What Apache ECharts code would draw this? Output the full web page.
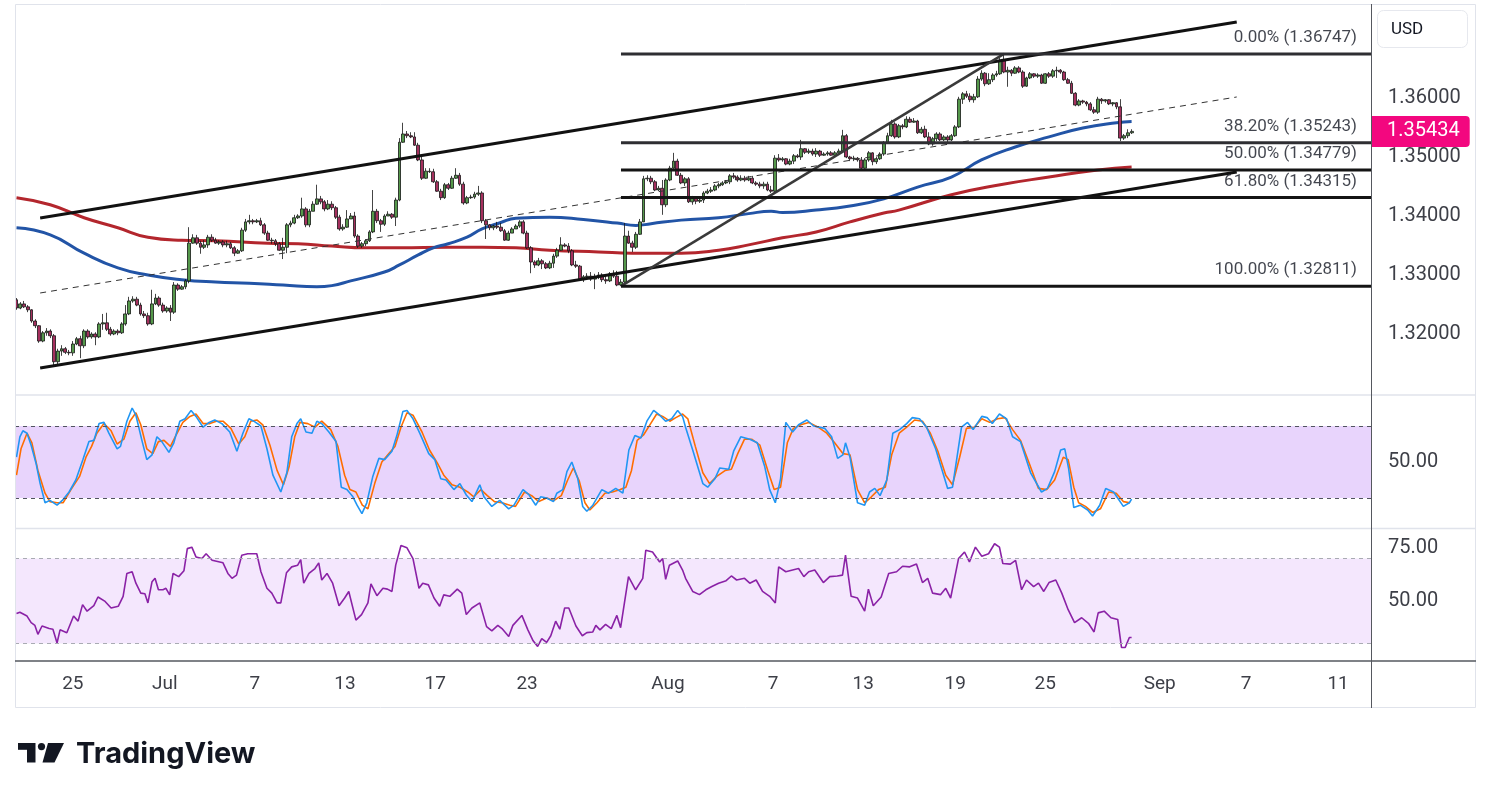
<!DOCTYPE html>
<html><head><meta charset="utf-8">
<script src="https://cdn.jsdelivr.net/npm/echarts@6/dist/echarts.min.js"></script>
<style>html,body{margin:0;padding:0;background:#fff}#c{width:1491px;height:799px}</style>
</head><body><div id="c"></div>
<script>
// ---------- DATA (4H candles: [open, close, low, high]) ----------
const candles = [
[1.3258,1.3244,1.3241,1.3261],[1.3244,1.3251,1.3242,1.3254],[1.3251,1.3246,1.3244,1.3256],[1.3246,1.3241,1.3237,1.3249],[1.3241,1.3222,1.3219,1.3242],
[1.3222,1.3214,1.3210,1.3225],[1.3214,1.3188,1.3185,1.3215],[1.3188,1.3202,1.3186,1.3205],[1.3202,1.3205,1.3197,1.3210],[1.3205,1.3197,1.3193,1.3208],
[1.3197,1.3153,1.3146,1.3200],[1.3153,1.3171,1.3149,1.3175],[1.3171,1.3175,1.3163,1.3181],[1.3175,1.3169,1.3166,1.3178],[1.3169,1.3168,1.3164,1.3173],
[1.3168,1.3183,1.3163,1.3188],[1.3183,1.3192,1.3181,1.3195],[1.3192,1.3180,1.3159,1.3197],[1.3180,1.3205,1.3176,1.3208],[1.3205,1.3195,1.3192,1.3208],
[1.3195,1.3200,1.3192,1.3203],[1.3200,1.3195,1.3181,1.3203],[1.3195,1.3217,1.3193,1.3220],[1.3217,1.3219,1.3207,1.3234],[1.3219,1.3208,1.3205,1.3236],
[1.3208,1.3200,1.3197,1.3212],[1.3200,1.3205,1.3198,1.3208],[1.3205,1.3202,1.3198,1.3208],[1.3202,1.3217,1.3200,1.3220],[1.3217,1.3234,1.3214,1.3249],
[1.3234,1.3256,1.3232,1.3263],[1.3256,1.3259,1.3253,1.3264],[1.3259,1.3249,1.3247,1.3263],[1.3249,1.3234,1.3231,1.3253],[1.3234,1.3231,1.3227,1.3239],
[1.3231,1.3217,1.3214,1.3236],[1.3217,1.3251,1.3215,1.3275],[1.3251,1.3261,1.3249,1.3268],[1.3261,1.3249,1.3246,1.3264],[1.3249,1.3239,1.3236,1.3253],
[1.3239,1.3244,1.3236,1.3247],[1.3244,1.3237,1.3222,1.3249],[1.3237,1.3283,1.3234,1.3288],[1.3283,1.3276,1.3273,1.3286],[1.3276,1.3280,1.3275,1.3283],
[1.3280,1.3290,1.3276,1.3293],[1.3290,1.3354,1.3286,1.3381],[1.3354,1.3363,1.3353,1.3369],[1.3363,1.3354,1.3351,1.3368],[1.3354,1.3347,1.3336,1.3358],
[1.3347,1.3351,1.3344,1.3359],[1.3351,1.3364,1.3346,1.3368],[1.3364,1.3359,1.3356,1.3369],[1.3359,1.3354,1.3353,1.3363],[1.3354,1.3356,1.3351,1.3359],
[1.3356,1.3351,1.3347,1.3359],[1.3351,1.3353,1.3347,1.3358],[1.3353,1.3346,1.3344,1.3356],[1.3346,1.3337,1.3332,1.3349],[1.3337,1.3341,1.3336,1.3344],
[1.3341,1.3376,1.3339,1.3380],[1.3376,1.3390,1.3373,1.3395],[1.3390,1.3392,1.3386,1.3402],[1.3392,1.3390,1.3386,1.3395],[1.3390,1.3392,1.3388,1.3395],
[1.3392,1.3385,1.3383,1.3397],[1.3385,1.3371,1.3368,1.3388],[1.3371,1.3359,1.3358,1.3375],[1.3359,1.3358,1.3353,1.3363],[1.3358,1.3353,1.3349,1.3361],
[1.3353,1.3342,1.3341,1.3356],[1.3342,1.3347,1.3327,1.3363],[1.3347,1.3385,1.3337,1.3388],[1.3385,1.3388,1.3381,1.3392],[1.3388,1.3397,1.3386,1.3402],
[1.3397,1.3400,1.3395,1.3403],[1.3400,1.3412,1.3397,1.3431],[1.3412,1.3385,1.3381,1.3415],[1.3385,1.3408,1.3381,1.3412],[1.3408,1.3420,1.3408,1.3425],
[1.3420,1.3429,1.3419,1.3453],[1.3429,1.3424,1.3420,1.3434],[1.3424,1.3412,1.3408,1.3427],[1.3412,1.3420,1.3410,1.3427],[1.3420,1.3414,1.3410,1.3425],
[1.3414,1.3398,1.3395,1.3417],[1.3398,1.3378,1.3375,1.3402],[1.3378,1.3381,1.3375,1.3386],[1.3381,1.3395,1.3380,1.3410],[1.3395,1.3400,1.3395,1.3405],
[1.3400,1.3366,1.3363,1.3407],[1.3366,1.3349,1.3346,1.3369],[1.3349,1.3353,1.3346,1.3356],[1.3353,1.3358,1.3349,1.3361],[1.3358,1.3373,1.3356,1.3376],
[1.3373,1.3408,1.3371,1.3444],[1.3408,1.3392,1.3388,1.3412],[1.3392,1.3386,1.3373,1.3395],[1.3386,1.3400,1.3383,1.3403],[1.3400,1.3403,1.3400,1.3408],
[1.3403,1.3398,1.3395,1.3405],[1.3398,1.3427,1.3383,1.3431],[1.3427,1.3525,1.3425,1.3532],[1.3525,1.3539,1.3524,1.3558],[1.3539,1.3536,1.3532,1.3544],
[1.3536,1.3534,1.3532,1.3542],[1.3534,1.3520,1.3519,1.3542],[1.3520,1.3495,1.3493,1.3524],[1.3495,1.3464,1.3461,1.3500],[1.3464,1.3476,1.3463,1.3481],
[1.3476,1.3475,1.3473,1.3481],[1.3475,1.3458,1.3456,1.3480],[1.3458,1.3442,1.3441,1.3461],[1.3442,1.3431,1.3427,1.3446],[1.3431,1.3453,1.3429,1.3456],
[1.3453,1.3447,1.3444,1.3456],[1.3447,1.3464,1.3446,1.3468],[1.3464,1.3469,1.3463,1.3481],[1.3469,1.3454,1.3451,1.3473],[1.3454,1.3422,1.3419,1.3458],
[1.3422,1.3431,1.3420,1.3434],[1.3431,1.3432,1.3429,1.3436],[1.3432,1.3437,1.3429,1.3441],[1.3437,1.3439,1.3434,1.3451],[1.3439,1.3392,1.3388,1.3442],
[1.3392,1.3385,1.3361,1.3395],[1.3385,1.3380,1.3376,1.3386],[1.3380,1.3383,1.3376,1.3385],[1.3383,1.3381,1.3378,1.3390],[1.3381,1.3375,1.3373,1.3388],
[1.3375,1.3359,1.3358,1.3378],[1.3359,1.3371,1.3358,1.3375],[1.3371,1.3378,1.3371,1.3381],[1.3378,1.3383,1.3378,1.3386],[1.3383,1.3390,1.3380,1.3393],
[1.3390,1.3371,1.3369,1.3393],[1.3371,1.3346,1.3344,1.3375],[1.3346,1.3322,1.3303,1.3349],[1.3322,1.3317,1.3312,1.3325],[1.3317,1.3324,1.3315,1.3329],
[1.3324,1.3319,1.3310,1.3327],[1.3319,1.3312,1.3310,1.3322],[1.3312,1.3320,1.3310,1.3324],[1.3320,1.3332,1.3312,1.3336],[1.3332,1.3342,1.3329,1.3346],
[1.3342,1.3351,1.3341,1.3364],[1.3351,1.3349,1.3347,1.3354],[1.3349,1.3341,1.3337,1.3354],[1.3341,1.3317,1.3315,1.3344],[1.3317,1.3315,1.3312,1.3324],
[1.3315,1.3292,1.3290,1.3317],[1.3292,1.3297,1.3288,1.3300],[1.3297,1.3298,1.3293,1.3303],[1.3298,1.3293,1.3290,1.3305],[1.3293,1.3297,1.3276,1.3302],
[1.3297,1.3300,1.3293,1.3305],[1.3300,1.3292,1.3288,1.3303],[1.3292,1.3290,1.3285,1.3298],[1.3290,1.3302,1.3288,1.3305],[1.3302,1.3298,1.3295,1.3308],
[1.3298,1.3283,1.3281,1.3307],[1.3283,1.3288,1.3281,1.3293],[1.3288,1.3366,1.3285,1.3388],[1.3366,1.3354,1.3353,1.3375],[1.3354,1.3347,1.3339,1.3358],
[1.3347,1.3369,1.3344,1.3373],[1.3369,1.3390,1.3368,1.3395],[1.3390,1.3463,1.3390,1.3468],[1.3463,1.3464,1.3459,1.3469],[1.3464,1.3458,1.3454,1.3468],
[1.3458,1.3444,1.3442,1.3461],[1.3444,1.3447,1.3442,1.3451],[1.3447,1.3419,1.3402,1.3461],[1.3419,1.3461,1.3415,1.3464],[1.3461,1.3481,1.3459,1.3485],
[1.3481,1.3493,1.3480,1.3507],[1.3493,1.3469,1.3468,1.3497],[1.3469,1.3456,1.3454,1.3473],[1.3456,1.3463,1.3451,1.3466],[1.3463,1.3424,1.3422,1.3466],
[1.3424,1.3431,1.3419,1.3434],[1.3431,1.3425,1.3420,1.3432],[1.3425,1.3427,1.3422,1.3432],[1.3427,1.3439,1.3422,1.3442],[1.3439,1.3442,1.3437,1.3446],
[1.3442,1.3444,1.3439,1.3449],[1.3444,1.3451,1.3442,1.3454],[1.3451,1.3453,1.3447,1.3456],[1.3453,1.3456,1.3451,1.3459],[1.3456,1.3458,1.3454,1.3461],
[1.3458,1.3468,1.3454,1.3471],[1.3468,1.3466,1.3463,1.3473],[1.3466,1.3461,1.3458,1.3469],[1.3461,1.3464,1.3459,1.3469],[1.3464,1.3461,1.3458,1.3468],
[1.3461,1.3464,1.3459,1.3468],[1.3464,1.3456,1.3454,1.3468],[1.3456,1.3454,1.3451,1.3459],[1.3454,1.3451,1.3447,1.3458],[1.3451,1.3454,1.3446,1.3458],
[1.3454,1.3444,1.3442,1.3458],[1.3444,1.3442,1.3439,1.3451],[1.3442,1.3498,1.3439,1.3503],[1.3498,1.3495,1.3492,1.3505],[1.3495,1.3497,1.3492,1.3500],
[1.3497,1.3488,1.3486,1.3498],[1.3488,1.3493,1.3486,1.3497],[1.3493,1.3502,1.3488,1.3505],[1.3502,1.3500,1.3498,1.3505],[1.3500,1.3514,1.3495,1.3529],
[1.3514,1.3508,1.3505,1.3515],[1.3508,1.3510,1.3505,1.3514],[1.3510,1.3505,1.3502,1.3514],[1.3505,1.3510,1.3500,1.3515],[1.3510,1.3503,1.3500,1.3512],
[1.3503,1.3505,1.3502,1.3508],[1.3505,1.3507,1.3502,1.3510],[1.3507,1.3503,1.3502,1.3510],[1.3503,1.3507,1.3502,1.3510],[1.3507,1.3510,1.3505,1.3514],
[1.3510,1.3536,1.3508,1.3546],[1.3536,1.3500,1.3498,1.3539],[1.3500,1.3497,1.3493,1.3502],[1.3497,1.3498,1.3493,1.3502],[1.3498,1.3495,1.3492,1.3500],
[1.3495,1.3481,1.3478,1.3500],[1.3481,1.3495,1.3480,1.3498],[1.3495,1.3507,1.3492,1.3510],[1.3507,1.3492,1.3486,1.3508],[1.3492,1.3497,1.3488,1.3500],
[1.3497,1.3505,1.3495,1.3508],[1.3505,1.3524,1.3502,1.3527],[1.3524,1.3536,1.3522,1.3541],[1.3536,1.3556,1.3534,1.3563],[1.3556,1.3534,1.3531,1.3559],
[1.3534,1.3553,1.3532,1.3556],[1.3553,1.3551,1.3547,1.3556],[1.3551,1.3564,1.3549,1.3569],[1.3564,1.3559,1.3558,1.3568],[1.3559,1.3561,1.3558,1.3566],
[1.3561,1.3541,1.3539,1.3563],[1.3541,1.3547,1.3539,1.3551],[1.3547,1.3534,1.3532,1.3553],[1.3534,1.3522,1.3520,1.3542],[1.3522,1.3531,1.3519,1.3534],
[1.3531,1.3539,1.3527,1.3542],[1.3539,1.3529,1.3527,1.3542],[1.3529,1.3534,1.3527,1.3537],[1.3534,1.3529,1.3525,1.3537],[1.3529,1.3536,1.3527,1.3539],
[1.3536,1.3551,1.3534,1.3554],[1.3551,1.3598,1.3549,1.3602],[1.3598,1.3607,1.3590,1.3610],[1.3607,1.3603,1.3600,1.3612],[1.3603,1.3597,1.3593,1.3608],
[1.3597,1.3602,1.3592,1.3607],[1.3602,1.3632,1.3600,1.3637],[1.3632,1.3642,1.3629,1.3647],[1.3642,1.3624,1.3620,1.3644],[1.3624,1.3631,1.3622,1.3642],
[1.3631,1.3639,1.3627,1.3642],[1.3639,1.3641,1.3636,1.3646],[1.3641,1.3663,1.3639,1.3668],[1.3663,1.3644,1.3642,1.36747],[1.3644,1.3647,1.3619,1.3653],
[1.3647,1.3642,1.3637,1.3649],[1.3642,1.3651,1.3641,1.3654],[1.3651,1.3644,1.3642,1.3654],[1.3644,1.3620,1.3617,1.3647],[1.3620,1.3634,1.3619,1.3636],
[1.3634,1.3641,1.3632,1.3644],[1.3641,1.3637,1.3634,1.3642],[1.3637,1.3639,1.3634,1.3642],[1.3639,1.3625,1.3624,1.3641],[1.3625,1.3641,1.3624,1.3642],
[1.3641,1.3637,1.3634,1.3644],[1.3637,1.3646,1.3634,1.3649],[1.3646,1.3647,1.3634,1.3653],[1.3647,1.3644,1.3641,1.3649],[1.3644,1.3631,1.3629,1.3646],
[1.3631,1.3625,1.3624,1.3634],[1.3625,1.3608,1.3607,1.3629],[1.3608,1.3588,1.3586,1.3610],[1.3588,1.3595,1.3586,1.3598],[1.3595,1.3593,1.3590,1.3597],
[1.3593,1.3590,1.3586,1.3595],[1.3590,1.3580,1.3578,1.3593],[1.3580,1.3576,1.3573,1.3585],[1.3576,1.3598,1.3573,1.3602],[1.3598,1.3595,1.3590,1.3600],
[1.3595,1.3597,1.3592,1.3598],[1.3597,1.3590,1.3588,1.3598],[1.3590,1.3592,1.3586,1.3593],[1.3592,1.3585,1.3581,1.3593],[1.3585,1.3532,1.3527,1.3598],
[1.3532,1.3536,1.3529,1.3539],[1.3536,1.3541,1.3532,1.3547],[1.3541,1.35434,1.3539,1.3547]
];
const lastPrice = 1.35434;

// moving averages [bar, price]
const maBlue = [[0,1.3380],[9,1.3368],[18,1.3337],[27,1.3312],[35,1.3300],[44,1.3292],[53,1.3288],[62,1.3286],[71,1.3283],[80,1.3280],[84,1.3282],[89,1.3290],[98,1.3305],[102,1.3317],[107,1.3334],[111,1.3346],[115,1.3353],[120,1.3364],[124,1.3378],[129,1.3389],[133,1.3396],[142,1.3398],[151,1.3394],[160,1.3388],[165,1.3384],[169,1.3387],[177,1.3393],[187,1.3397],[195,1.3404],[201,1.3408],[204,1.3406],[213,1.3410],[222,1.3417],[231,1.3429],[240,1.3449],[249,1.3466],[257,1.3495],[266,1.3517],[275,1.3534],[284,1.3549],[293,1.3558],[297,1.3560]];
const maRed = [[0,1.3431],[9,1.3419],[18,1.3397],[27,1.3380],[35,1.3364],[44,1.3359],[53,1.3358],[67,1.3354],[75,1.3353],[84,1.3349],[93,1.3346],[102,1.3346],[115,1.3347],[124,1.3347],[133,1.3346],[142,1.3342],[155,1.3339],[164,1.3337],[177,1.3337],[187,1.3342],[195,1.3351],[204,1.3363],[213,1.3373],[222,1.3390],[231,1.3405],[235,1.3410],[249,1.3436],[262,1.3453],[275,1.3466],[288,1.3478],[297,1.3483]];

// stochastic %K and %D [bar, value]
const stochK = [[0,54],[0.9,71],[1.7,76],[2.8,74],[3.9,64],[5.2,49],[6.3,32],[7.6,16],[8.9,18],[10.8,14],[12.2,18],[14,25],[15.8,35],[17.7,52],[19.3,67],[20.6,68],[22,82],[23.3,83],[24.6,74],[26.8,61],[27.7,63],[29.4,84],[30.8,95],[31.8,89],[33.4,68],[34.7,52],[36.1,56],[37.4,71],[38.7,67],[40.6,58],[41.9,66],[43.5,84],[44.9,86],[46.5,93],[47.8,88],[49.7,79],[51.3,83],[52.8,85],[54.7,82],[56.8,75],[58.7,59],[60.3,74],[61.9,86],[63.2,84],[65.1,80],[66.7,61],[68.3,39],[70.4,25],[72,41],[73.3,71],[74.7,82],[75.7,86],[77.1,75],[78.7,74],[80,84],[81.3,82],[83.2,75],[85.1,67],[86.5,29],[88,27],[89.6,21],[90.7,14],[92,7],[93.3,16],[94.9,38],[96.5,53],[98.1,52],[100,59],[101.3,72],[102.9,92],[104,93],[105.6,86],[107.4,74],[109.8,57],[111.4,52],[113,36],[114.4,35],[116.5,27],[118.1,32],[119.8,22.5],[121.3,17],[123.4,31],[124.5,21],[126.6,13],[128.7,18],[131.1,11],[132.5,14],[134.9,27],[136.4,23],[138.3,14],[139.6,21],[141.2,20],[143,17],[143.9,24],[145.5,27],[146.6,42],[147.9,50],[149.5,36],[150.8,13],[151.9,9],[153.5,14],[155.9,27],[157.7,24],[159.6,28],[161.5,24],[163.1,60],[164.7,72],[166.3,70],[167.9,84],[169.7,93],[171.3,89],[172.9,84],[174.5,86],[176.1,93],[177.4,88],[178.2,79],[180.1,60],[182.8,32],[184.1,29],[186,36],[187.3,45],[189.7,44],[191,59],[192.9,71],[195.3,69],[197.3,66],[199.3,46],[200.6,27],[202.1,16],[203.5,36],[204.9,83],[206.7,75],[208.3,81],[210.5,85],[212.3,80],[215.3,78],[217.1,71],[218.7,53],[220.1,56],[220.8,66],[222,54],[224,16],[225.9,14],[227.2,25],[228.6,28],[230,22],[231.8,35],[233.4,74],[235.2,77],[237.1,82],[238.6,87],[240.5,86],[242.4,79],[244.8,61],[248,28],[249.3,29],[251.7,79],[253.3,83],[254.8,77],[257.1,88],[258.5,87],[259.9,82],[261.8,90],[263.7,86],[265.3,71],[267.4,67],[270.1,41],[273,25],[274.6,28],[276.5,42],[278.1,60],[279.2,61],[280.2,45],[281.6,12],[283.3,14],[285.3,10],[286.6,5],[288.5,14],[290.1,28],[292.2,25],[294.8,13],[296.4,16],[297,19]];
const stochD = [[0,39],[1.2,61],[2.8,74],[4.1,66],[5.7,43],[7.6,24],[8.9,17],[10.8,16],[12.4,16],[14.5,27],[16.8,38],[18.5,54],[20,63],[21.4,74],[23.3,82],[25.2,76],[26.8,65],[28.6,69],[30.2,84],[31.8,91],[33.1,81],[34.7,61],[36.3,57],[37.8,67],[39.3,68],[41,63],[42.5,72.5],[44.3,83],[46.2,88],[47.8,90],[49.7,82],[51.5,82],[53.2,84],[55,84],[57.1,78],[59.2,65],[60.8,71],[62.4,84],[64,85],[65.6,81],[67.5,64],[69.4,43],[71.1,31],[72.6,46],[74.1,71],[75.5,83],[77.6,82],[79.5,79],[81.3,84],[83.7,77],[85.6,63],[87.4,39],[88.8,27],[90.4,25],[92.1,14],[93.6,11],[95.4,32],[97.3,50],[98.9,56],[100.8,63],[102.4,79],[104,91],[105.6,89],[108,75],[110,60],[112.1,49],[113.8,39],[116,31],[118.1,29],[120.2,25],[121.8,21],[123.7,27],[125.4,22],[127.3,17],[129.3,16],[131.4,14],[132.9,13],[135.3,25],[137.2,22],[139.1,17],[141.2,20],[143.2,18],[145.1,22],[146.8,35],[148.3,45],[149.9,34],[151.4,16],[152.7,10],[154.6,16],[156.7,24],[158.7,25],[160.8,27],[162.3,29],[163.8,43],[165.3,68],[167,72.5],[168.9,82],[170.5,90],[172.1,88],[174,84],[175.6,87],[177.4,90],[178.8,86],[180.8,63],[182.8,41],[184.6,32],[186.5,38],[188.8,43],[190.4,44],[192.1,57],[193.9,69],[195.8,69],[198,64],[200.1,43],[201.8,27],[203.5,29],[205.3,66],[206.9,78],[208.9,81],[211,83],[213.5,79],[215.8,74],[217.9,66],[220.1,57],[222,56],[224,27],[225.9,16],[227.7,21],[229.6,27],[231.4,29],[233.1,56],[235.1,74],[237.1,79],[239.2,85],[241.3,84],[243.4,74],[245.4,59],[247.5,39],[249.3,31],[251.2,54],[253,78],[255.1,79],[257.1,86],[259.2,83],[261.3,86],[263.3,87],[265.3,77],[267.4,68],[269.6,50],[272.2,28],[274.4,27],[276.5,35],[278.8,54],[280.1,52],[281.6,29],[282.9,16],[284.7,13],[286.6,8],[288.7,11],[290.9,25],[292.9,24],[294.8,17],[296.6,16]];

// RSI [bar, value]
const rsi = [[0,44.1],[0.9,44.7],[2.8,42.9],[3.9,39.8],[4.9,38.5],[5.7,34.3],[6.8,38.2],[8.7,37],[9.7,36.7],[10.8,30.2],[11.6,36.4],[13.4,35],[15.2,42.9],[16.4,40.5],[17.6,48.3],[18.8,45.2],[20.6,47.8],[21.7,51.9],[23.6,49.8],[25.2,46.7],[27.1,47.5],[28.4,52.2],[29.4,63],[30.8,63.8],[31.8,58.4],[33.1,53.7],[34.2,53.4],[35,49.1],[36.1,59.1],[36.9,60.7],[37.8,55.3],[39,55.3],[39.8,56],[40.8,52.9],[41.7,63],[43.2,61.5],[44.6,64.3],[45.5,74.7],[46.7,75.4],[47.8,70.8],[49.4,70],[50.5,72.3],[52.1,69.2],[55,68],[56.3,63],[57.4,60.7],[58.6,62.2],[60,71.6],[61.6,72.3],[64,72.3],[65.1,63.8],[66.7,56],[68,53.7],[69.4,49.1],[70.4,49.1],[71.9,63.3],[73.3,66.1],[74.9,66.9],[75.7,69.5],[76.5,58.4],[77.9,63],[79.5,65.3],[80.5,68],[81.3,59.9],[82.7,63],[84.2,58.4],[85.9,47.8],[87.4,51.4],[88.5,54.5],[90.4,41],[91.9,43.6],[93.6,49.1],[94.4,58.1],[96,52.5],[97.6,56],[98.8,55.6],[100,54.5],[101,66.9],[102.4,76.2],[104,75.1],[105.6,70],[107.2,56],[108.2,58.4],[109.7,57.6],[111.2,51.4],[112.7,47.5],[113.8,52.9],[115.4,52.2],[117.4,55.6],[118.6,53.7],[119.8,43.6],[121.3,46.7],[123.4,49.1],[125.2,37.9],[126.6,35.9],[128.2,38.5],[129.3,37],[131.1,33.3],[132.2,38.5],[134.6,43.2],[136.2,36.4],[137.6,31.2],[138.8,28.6],[139.9,32.3],[141.2,30.5],[142.3,33.6],[143.6,40.5],[144.7,36.7],[146,46.7],[147.1,46.7],[149,38.2],[150.7,33.6],[151.9,35.1],[153.5,35.4],[154.3,38.5],[155.4,36.4],[156.9,39],[158.4,37],[159.9,43.2],[160.9,37.4],[163,61.5],[164.9,55.3],[166.8,60.7],[167.6,73.9],[169.4,73.1],[171.3,68.4],[172.1,70],[172.9,60.2],[173.9,66.9],[176.1,68.9],[177.4,64.6],[178.2,60.7],[180.1,54.5],[181.9,53],[183.6,55.3],[185.2,56.8],[187,58.4],[189,59.6],[190.4,61.8],[191.8,59.9],[193.9,60.7],[195.3,58.4],[197,59.9],[198.7,54.5],[200.6,52.2],[202.1,49.1],[203,66.1],[204.9,63.8],[206.7,64.6],[208.3,65.3],[209.7,61.5],[211,63.8],[212.6,64.6],[214.9,58.7],[216.6,61.5],[218.6,61.8],[220,62.2],[220.8,71.6],[222.3,52.2],[224,51.4],[225.9,45.2],[226.9,55.6],[228.2,47.8],[230.3,51.9],[232.3,63],[234.4,63.8],[236,66.4],[237.9,66.1],[239.7,67.4],[241.3,58.7],[242.7,60.7],[244,53.7],[246.1,53],[247.5,56],[248.8,51.4],[250.9,70],[252.5,73.1],[253.8,68.4],[255.4,75.4],[257.1,71.1],[258.9,72.3],[260.5,77],[261.8,75.4],[262.7,67.7],[264.7,67.4],[266.1,69.2],[267.7,55.3],[269,59.9],[270.9,56.8],[272.2,58.4],[273.6,54.5],[275,58.7],[276.8,59.9],[278.4,53.7],[280.1,45.9],[281.8,39.8],[283.7,42.1],[285.5,39.5],[287,35.4],[288.1,44.4],[289.7,45.2],[291.5,42.1],[293.3,41.3],[294.3,28.1],[295.3,28.1],[296.4,32.8],[297,32.8]];

// drawings
const channelX = [6.3, 325];
const channelUpper = [1.33966, 1.37288];
const channelLower = [1.31424, 1.34746];
const channelMid = [1.32695, 1.36017];
const fibLevels = [0, 38.2, 50, 61.8, 100];
const fibPrices = [1.36747, 1.35243, 1.34779, 1.34315, 1.32811];
const fibLowBar = 161;
const fibHighBar = 263;

// axes ticks
const priceTicks = [1.32, 1.33, 1.34, 1.35, 1.36];
const stochTicks = [50];
const rsiTicks = [50, 75];
const stochBand = [20, 80];
const rsiBand = [30, 70];
const dateTickPos = [15, 39.5, 63.5, 87.5, 111.5, 136, 173.5, 201.5, 225.5, 250, 274, 304.5, 327.5, 352];
const dateTickLabels = ['25','Jul','7','13','17','23','Aug','7','13','19','25','Sep','7','11'];

// ---------- CHART ----------
const X_MIN = -0.4, X_MAX = 360.76, FIB_LABEL_X = 358.5;
const FONT = 'Roboto, "Noto Sans", sans-serif';
const AX_COLOR = '#3d3f47';
const chart = echarts.init(document.getElementById('c'));

const grids = [
  {left:15, right:120, top:5, height:390},
  {left:15, right:120, top:395, height:133},
  {left:15, right:120, top:528, height:133}
].map(g => Object.assign(g, {containLabel:false, outerBoundsMode:'none'}));

const xAxes = [0,1,2].map(k => ({
  type:'value', gridIndex:k, min:X_MIN, max:X_MAX,
  axisLine:{show:false}, axisTick:{show:false}, splitLine:{show:false},
  axisLabel: k === 2 ? {
    show:true, customValues: dateTickPos, margin:14, fontSize:19, color:AX_COLOR, fontFamily:FONT,
    formatter: v => { let b = -1, d = 1e9; dateTickPos.forEach((p, j) => { if (Math.abs(p - v) < d) { d = Math.abs(p - v); b = j; } }); return d < 0.01 ? dateTickLabels[b] : ''; }
  } : {show:false}
}));

function yAx(k, min, max, ticks, fmt) {
  return {type:'value', gridIndex:k, position:'right', min, max,
    axisLine:{show:false}, axisTick:{show:false}, splitLine:{show:false},
    axisLabel:{customValues:ticks, formatter:fmt, margin:17, fontSize:20, color:AX_COLOR, fontFamily:FONT}};
}
const yAxes = [
  yAx(0, 1.30966, 1.37576, priceTicks, v => v.toFixed(5)),
  yAx(1, -5, 105.83, stochTicks, v => v.toFixed(2)),
  yAx(2, 21.7, 84.43, rsiTicks, v => v.toFixed(2))
];

const line2 = (xs, ys) => xs.map((x, k) => [x, ys[k]]);
const drawLine = (data, color, width, type, z) => ({
  type:'line', xAxisIndex:0, yAxisIndex:0, data, showSymbol:false, symbol:'none', silent:true, z:z || 5,
  lineStyle:{color, width, type: type || 'solid'}
});

const series = [
  {type:'line', xAxisIndex:0, yAxisIndex:0, data:maRed, smooth:true, showSymbol:false, symbol:'none', silent:true, z:1, lineStyle:{color:'#b3262d', width:3}},
  {type:'line', xAxisIndex:0, yAxisIndex:0, data:maBlue, smooth:true, showSymbol:false, symbol:'none', silent:true, z:1, lineStyle:{color:'#2254a6', width:3}},
  {type:'candlestick', xAxisIndex:0, yAxisIndex:0, z:3, barWidth:3.3, clip:false,
    data: candles.map((c, i) => [i, c[0], c[1], c[2], c[3]]),
    itemStyle:{color:'#55984b', color0:'#a5305e', borderColor:'#151515', borderColor0:'#151515', borderWidth:0.8}
  },
  {type:'line', xAxisIndex:0, yAxisIndex:0, data:[], silent:true, clip:false, z:20,
    markLine:{silent:true, symbol:'none', animation:false, precision:5,
      lineStyle:{color:'rgba(0,0,0,0)', width:1},
      label:{show:true, position:'end', distance:0, formatter: () => lastPrice.toFixed(5), backgroundColor:'#f3077f', color:'#ffffff',
        fontSize:20, fontFamily:FONT, padding:[6,10,5,16], lineHeight:20, borderRadius:[0,4,4,0]},
      data:[{yAxis:lastPrice}]}
  },
  drawLine(line2(channelX, channelUpper), '#111111', 3),
  drawLine(line2(channelX, channelLower), '#111111', 3),
  drawLine(line2(channelX, channelMid), '#333333', 1, [6,5]),
  drawLine([[fibLowBar, fibPrices[4]], [fibHighBar, fibPrices[0]]], '#3a3a3a', 2.5),
  ...fibPrices.map((p, k) => drawLine([[fibLowBar, p], [X_MAX, p]], k < 2 ? '#2e2e32' : '#141414', 3)),
  {type:'scatter', xAxisIndex:0, yAxisIndex:0, symbolSize:1, silent:true, z:6, itemStyle:{color:'rgba(0,0,0,0)'},
    data: fibPrices.map((p, k) => ({value:[FIB_LABEL_X, p], label:{formatter: fibLevels[k].toFixed(2) + '% (' + p.toFixed(5) + ')'}})),
    label:{show:true, position:'left', offset:[0,-16], fontSize:17, color:'#131722', fontFamily:FONT}
  },
  {type:'line', xAxisIndex:1, yAxisIndex:1, data:stochK, showSymbol:false, symbol:'none', silent:true, z:3, lineStyle:{color:'#2196f3', width:1.6},
    markArea:{silent:true, itemStyle:{color:'#e8d4fc'}, data:[[{yAxis:stochBand[0]}, {yAxis:stochBand[1]}]]},
    markLine:{silent:true, symbol:'none', label:{show:false}, lineStyle:{color:'#50535e', type:[4,4], width:1}, data:[{yAxis:stochBand[1]}, {yAxis:stochBand[0]}]}
  },
  {type:'line', xAxisIndex:1, yAxisIndex:1, data:stochD, showSymbol:false, symbol:'none', silent:true, z:2, lineStyle:{color:'#ff6d00', width:1.6}},
  {type:'line', xAxisIndex:2, yAxisIndex:2, data:rsi, showSymbol:false, symbol:'none', silent:true, z:3, lineStyle:{color:'#8a22a6', width:1.6},
    markArea:{silent:true, itemStyle:{color:'#f4e7fd'}, data:[[{yAxis:rsiBand[0]}, {yAxis:rsiBand[1]}]]},
    markLine:{silent:true, symbol:'none', label:{show:false}, lineStyle:{color:'#a9abb3', type:[4,4], width:1}, data:[{yAxis:rsiBand[1]}, {yAxis:rsiBand[0]}]}
  }
];

const graphic = [
  {type:'rect', silent:true, z:50, shape:{x:15.5, y:4.5, width:1460, height:703}, style:{fill:'none', stroke:'#e0e3eb', lineWidth:1}},
  {type:'line', silent:true, z:50, shape:{x1:15, y1:395, x2:1476, y2:395}, style:{stroke:'#e0e3eb', lineWidth:1.5}},
  {type:'line', silent:true, z:50, shape:{x1:15, y1:528.5, x2:1476, y2:528.5}, style:{stroke:'#e0e3eb', lineWidth:1.5}},
  {type:'line', silent:true, z:50, shape:{x1:15, y1:661, x2:1476, y2:661}, style:{stroke:'#55585f', lineWidth:1.3}},
  {type:'line', silent:true, z:50, shape:{x1:1371.5, y1:4, x2:1371.5, y2:708}, style:{stroke:'#55585f', lineWidth:1}},
  {type:'rect', silent:true, z:50, shape:{x:1377.5, y:10.5, width:90, height:37, r:6}, style:{fill:'#ffffff', stroke:'#e6e8ee', lineWidth:1}},
  {type:'text', silent:true, z:51, style:{text:'USD', x:1391, y:29.5, verticalAlign:'middle', fontSize:17, fontFamily:FONT, fill:'#131722'}},
  {type:'rect', silent:true, z:51, shape:{x:18, y:743, width:17, height:6.8}, style:{fill:'#131722'}},
  {type:'rect', silent:true, z:51, shape:{x:27, y:743, width:8.5, height:19.5}, style:{fill:'#131722'}},
  {type:'circle', silent:true, z:51, shape:{cx:41.5, cy:746.6, r:3.6}, style:{fill:'#131722'}},
  {type:'polygon', silent:true, z:51, shape:{points:[[48,743],[64,743],[54.5,762.5],[42.5,762.5]]}, style:{fill:'#131722'}},
  {type:'text', silent:true, z:51, style:{text:'TradingView', x:76, y:754, verticalAlign:'middle', fontSize:29, fontWeight:700, fontFamily:'Inter, Roboto, sans-serif', fill:'#131722'}}
];

chart.setOption({animation:false, backgroundColor:'#ffffff', grid:grids, xAxis:xAxes, yAxis:yAxes, series, graphic});
</script>
</body></html>
